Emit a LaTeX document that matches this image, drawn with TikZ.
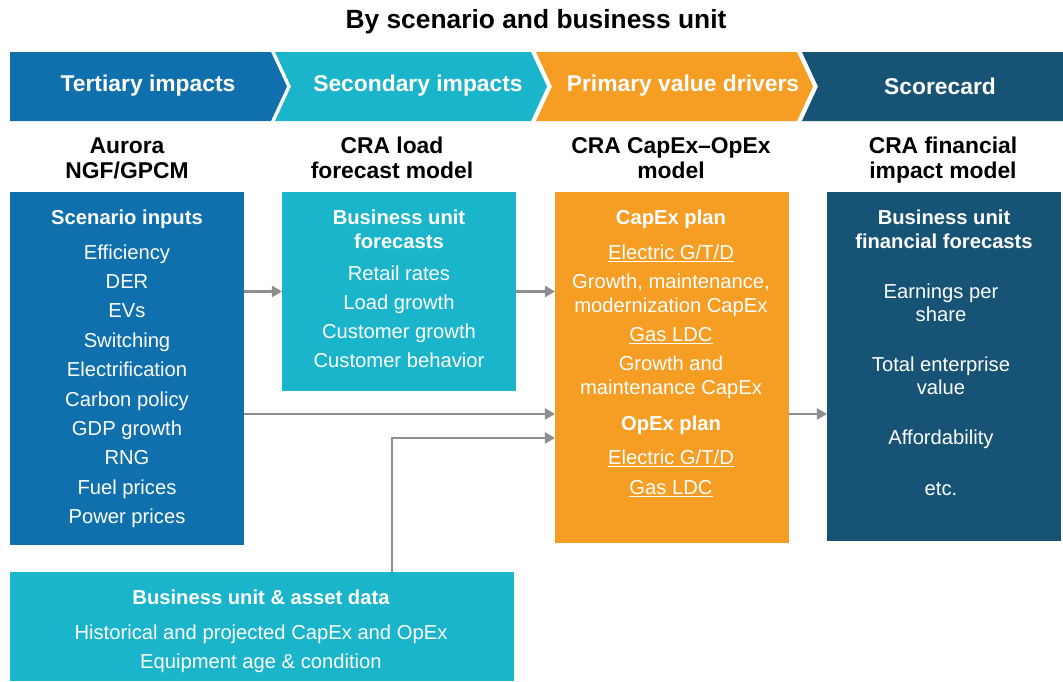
\documentclass[tikz,border=0pt]{standalone}
\usepackage{fontspec}
\setmainfont{Liberation Sans}
\usetikzlibrary{arrows.meta}

\definecolor{tertiary}{RGB}{15,112,173}
\definecolor{secondary}{RGB}{26,181,203}
\definecolor{primary}{RGB}{246,157,36}
\definecolor{scorecard}{RGB}{22,83,117}
\definecolor{flowgray}{RGB}{142,142,142}

\begin{document}
\begin{tikzpicture}[x=0.02cm, y=-0.02cm,
    box/.style={anchor=north west, inner sep=0pt, outer sep=0pt},
    band/.style={font=\bfseries\fontsize{13}{15}\selectfont, text=white},
    model/.style={font=\bfseries\fontsize{13}{14}\selectfont, anchor=base},
    item/.style={font=\fontsize{11.5}{13.6}\selectfont, text=white, anchor=base, align=center},
    bitem/.style={item, font=\bfseries\fontsize{11.5}{13.6}\selectfont},
    flow/.style={draw=flowgray, line width=1.2pt, -{Triangle[length=5.8pt,width=6.4pt]}}]
    \useasboundingbox (0,0) rectangle (1063,681);

    \node[font=\bfseries\fontsize{15}{17}\selectfont] (title) at (536,22) {By scenario and business unit};

    % chevron band
    \fill[tertiary] (10,52) -- (271,52) -- (287,86.5) -- (271,121) -- (10,121) -- cycle;
    \fill[secondary] (275,52) -- (531,52) -- (547,86.5) -- (531,121) -- (275,121) -- (291,86.5) -- cycle;
    \fill[primary] (536,52) -- (797,52) -- (813,86.5) -- (797,121) -- (536,121) -- (552,86.5) -- cycle;
    \fill[scorecard] (802,52) -- (1063,52) -- (1063,121) -- (802,121) -- (818,86.5) -- cycle;
    \node[band] (tert) at (148,86) {Tertiary impacts};
    \node[band] (sec) at (418,86) {Secondary impacts};
    \node[band] (prim) at (683,86) {Primary value drivers};
    \node[band] (score) at (940,86) {Scorecard};

    % model names
    \node[model] (m1) at (127,153) {Aurora};
    \node[model] (m1b) at (127,178) {NGF/GPCM};
    \node[model] (m2) at (392,153) {CRA load};
    \node[model] (m2b) at (392,178) {forecast model};
    \node[model] (m3) at (671,153) {CRA CapEx--OpEx};
    \node[model] (m3b) at (671,178) {model};
    \node[model] (m4) at (943,153) {CRA financial};
    \node[model] (m4b) at (943,178) {impact model};

    % boxes
    \node[box, fill=tertiary, minimum width=4.68cm, minimum height=7.06cm] (scen) at (10,192) {};
    \node[box, fill=secondary, minimum width=4.68cm, minimum height=3.98cm] (load) at (282,192) {};
    \node[box, fill=primary, minimum width=4.68cm, minimum height=7.02cm] (capex) at (555,192) {};
    \node[box, fill=scorecard, minimum width=4.68cm, minimum height=6.98cm] (fin) at (827,192) {};
    \node[box, fill=secondary, minimum width=10.08cm, minimum height=2.18cm] (asset) at (10,572) {};

    % scenario inputs
    \node[bitem] (scenhead) at (127,224) {Scenario inputs};
    \foreach \t [count=\i] in {Efficiency, DER, EVs, Switching, Electrification,
        Carbon policy, GDP growth, RNG, Fuel prices, Power prices}
        \node[item] (scen\i) at (127,{259+29.4*(\i-1)}) {\t};

    % load forecasts
    \node[bitem] (loadhead) at (399,224) {Business unit};
    \node[bitem] (loadheadb) at (399,248) {forecasts};
    \foreach \t [count=\i] in {Retail rates, Load growth, Customer growth, Customer behavior}
        \node[item] (load\i) at (399,{280+29.3*(\i-1)}) {\t};

    % capex and opex plan
    \node[bitem] (cap1) at (671,224) {CapEx plan};
    \node[item] (cap2) at (671,259) {\underline{Electric G/T/D}};
    \node[item] (cap3) at (671,288) {Growth, maintenance,};
    \node[item] (cap4) at (671,312) {modernization CapEx};
    \node[item] (cap5) at (671,341) {\underline{Gas LDC}};
    \node[item] (cap6) at (671,370) {Growth and};
    \node[item] (cap7) at (671,394) {maintenance CapEx};
    \node[bitem] (op1) at (671,430) {OpEx plan};
    \node[item] (op2) at (671,464) {\underline{Electric G/T/D}};
    \node[item] (op3) at (671,494) {\underline{Gas LDC}};

    % financial forecasts
    \node[bitem] (finhead) at (944,224) {Business unit};
    \node[bitem] (finheadb) at (944,248) {financial forecasts};
    \node[item] (fin1) at (941,298) {Earnings per};
    \node[item] (fin1b) at (941,321) {share};
    \node[item] (fin2) at (941,371) {Total enterprise};
    \node[item] (fin2b) at (941,394) {value};
    \node[item] (fin3) at (941,444) {Affordability};
    \node[item] (fin4) at (941,495) {etc.};

    % asset data
    \node[bitem] (assethead) at (261,604) {Business unit \& asset data};
    \node[item] (asset1) at (261,639) {Historical and projected CapEx and OpEx};
    \node[item] (asset2) at (261,668) {Equipment age \& condition};

    % connectors
    \coordinate (direct) at (400,414);
    \coordinate (tap) at (392,438);
    \draw[flow] (scen.east |- load.west) -- (load.west);
    \draw[flow] (load.east) -- (load.east -| capex.west);
    \draw[flow] (scen.east |- direct) -- (capex.west |- direct);
    \draw[flow] (tap |- asset.north) -- (tap) -- (capex.west |- tap);
    \draw[flow] (capex.east |- direct) -- (fin.west |- direct);
\end{tikzpicture}
\end{document}
